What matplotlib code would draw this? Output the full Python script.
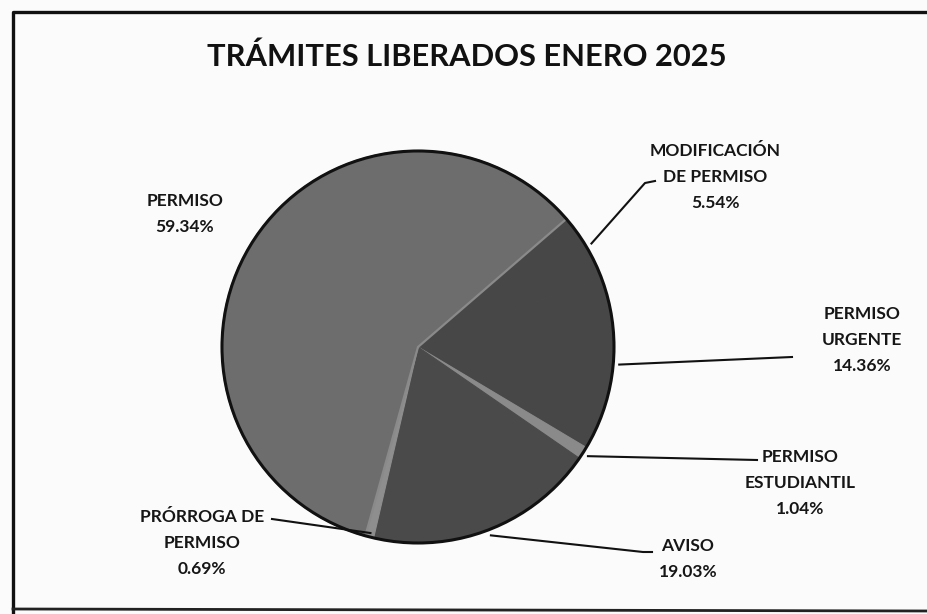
import matplotlib
matplotlib.use("Agg")
import matplotlib.pyplot as plt
import numpy as np

# ---- data ----
categories = ["MODIFICACIÓN\nDE PERMISO", "PERMISO\nURGENTE", "PERMISO\nESTUDIANTIL",
              "AVISO", "PRÓRROGA DE\nPERMISO", "PERMISO"]
values = [5.54, 14.36, 1.04, 19.03, 0.69, 59.34]
pct_labels = ["5.54%", "14.36%", "1.04%", "19.03%", "0.69%", "59.34%"]
title = "TRÁMITES LIBERADOS ENERO 2025"

colors = ["#474747", "#474747", "#8a8a8a", "#4a4a4a", "#8e8e8e", "#6d6d6d"]
edge_colors = ["#474747", "#474747", "#8a8a8a", "#4a4a4a", "#8e8e8e", "#8a8a8a"]

W, H = 927, 614
fig = plt.figure(figsize=(W / 100, H / 100), dpi=100)
fig.patch.set_facecolor("#fbfbfb")
ax = fig.add_axes([0, 0, 1, 1])
ax.set_facecolor("#fbfbfb")

cx, cy, R = 418, H - 347, 196
start = 40.8
wedges, _ = ax.pie(values, colors=colors, startangle=start, counterclock=False,
                   center=(cx, cy), radius=R,
                   wedgeprops=dict(linewidth=0.8))
for w, ec in zip(wedges, edge_colors):
    w.set_edgecolor(ec)
wedges[-1].set_linewidth(1.6)
wedges[-1].set_zorder(3)
circ = plt.Circle((cx, cy), R, fill=False, ec="#111111", lw=2.2, zorder=5)
ax.add_patch(circ)

ax.set_xlim(0, W)
ax.set_ylim(0, H)
ax.set_aspect("equal")
ax.axis("off")

font = "Lato"
fs = 12.5

# label block centres (pixel coords, y from top)
label_pos = [(715, 177), (862, 340), (800, 483), (688, 559), (202, 543), (185, 214)]
# leader line points after pie edge (pixel coords)
leader = [[(645, 183), (655, 181)],
          [(792, 357)],
          [(757, 460)],
          [(643, 552), (652, 552)],
          [(272, 519)],
          None]

cum = 0
for i, v in enumerate(values):
    mid = start - (cum + v / 2) / 100 * 360
    cum += v
    txt = categories[i] + "\n" + pct_labels[i]
    lx, ly = label_pos[i]
    ax.text(lx, H - ly, txt, ha="center", va="center", fontsize=fs, family=font,
            fontweight="bold", color="#161616", linespacing=1.8)
    if leader[i] is not None:
        a = np.deg2rad(mid)
        rr = R + 6 if i != 4 else R - 4
        pts = [(cx + rr * np.cos(a), cy + rr * np.sin(a))]
        pts += [(x, H - y) for x, y in leader[i]]
        xs, ys = zip(*pts)
        ax.plot(xs, ys, color="#111111", lw=1.5, zorder=6)

ax.text(467, H - 57, title, ha="center", va="center", fontsize=22.2, family=font,
        fontweight="bold", color="#111111")

# outer frame
ax.plot([13, 13, W + 5], [-5, H - 12, H - 12], color="#111111", lw=2.4, clip_on=False)
ax.plot([13, W + 5], [H - 609, H - 611], color="#222222", lw=2.0, clip_on=False)

fig.savefig("out.png", dpi=100, facecolor=fig.get_facecolor())
